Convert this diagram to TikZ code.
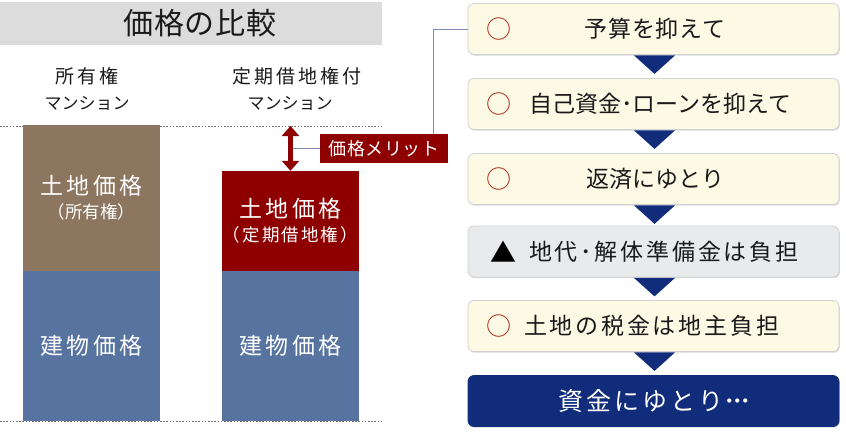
\documentclass[tikz,border=0pt]{standalone}
\usepackage{fontspec}
\setmainfont{Noto Sans CJK JP}
\newfontfamily\jpa[LetterSpace=3]{Noto Sans CJK JP}
\newfontfamily\jpb[LetterSpace=12]{Noto Sans CJK JP}
\newfontfamily\jpc[LetterSpace=15]{Noto Sans CJK JP}
\newcommand\barsubsize{\fontsize{17.5}{20}\selectfont}
\newcommand\middots{{\normalfont ･\kern-4.5pt･\kern-4.5pt･}}
\usetikzlibrary{arrows.meta,calc,shadows}
\definecolor{titlegray}{HTML}{DCDCDC}
\definecolor{landbrown}{HTML}{8C7660}
\definecolor{bldgblue}{HTML}{5773A0}
\definecolor{darkred}{HTML}{8E0000}
\definecolor{navy}{HTML}{102C7A}
\definecolor{cream}{HTML}{FCF9E4}
\definecolor{lgray}{HTML}{E8EAEC}
\definecolor{connblue}{HTML}{7C8BB0}
\definecolor{circred}{HTML}{B02A1A}
\definecolor{ink}{HTML}{1A1A1A}
\tikzset{
  bar/.style={rectangle, inner sep=0pt, minimum width=137pt, text=white, align=center, font=\fontsize{23}{27}\selectfont\jpc},
  colhead/.style={inner sep=0pt, text=ink, font=\fontsize{19}{22}\selectfont\jpc},
  colsub/.style={inner sep=0pt, text=ink, font=\fontsize{17}{20}\selectfont},
  flowbox/.style={rectangle, rounded corners=6pt, minimum width=371pt, minimum height=51pt, inner sep=0pt,
     draw=black!18, line width=0.8pt, drop shadow={shadow xshift=0.8pt, shadow yshift=-1.2pt, fill=black!25, opacity=0.6}},
  flowtext/.style={inner sep=0pt, text=ink, font=\fontsize{23}{26}\selectfont},
  okmark/.style={inner sep=0pt, text=circred, font=\fontsize{25}{26}\selectfont},
  conn/.style={draw=connblue, line width=0.8pt},
  guide/.style={draw=black!55, dash pattern=on 1.6pt off 1.6pt, line width=0.6pt},
  arrowdown/.style={fill=navy}
}
\begin{document}
\begin{tikzpicture}[x=1pt,y=-1pt]
\useasboundingbox (0,0) rectangle (846,432);
% title
\node[rectangle, fill=titlegray, minimum width=382pt, minimum height=43pt, inner sep=0pt] (titlebar) at (191,23.5) {};
\node[inner sep=0pt, text=ink, font=\fontsize{30}{32}\selectfont\jpa] (title) at (200,23.5) {価格の比較};
% column labels
\node[colhead] (l1a) at (87,76) {所有権};
\node[colsub] (l1b) at (87,103) {マンション};
\node[colhead] (l2a) at (297,76) {定期借地権付};
\node[colsub] (l2b) at (290,103) {マンション};
% guide lines
\coordinate (gt0) at (0,126); \coordinate (gt1) at (382,126);
\coordinate (gb0) at (0,421.5); \coordinate (gb1) at (382,421.5);
\path[guide] (gt0) -- (gt1);
\path[guide] (gb0) -- (gb1);
% bars
\node[bar, fill=landbrown, minimum height=146pt] (land1) at (91.5,198) {土地価格\\[-3pt]{\barsubsize\normalfont （所有権）}};
\node[bar, fill=bldgblue, minimum height=150pt] (bldg1) at (91.5,346) {建物価格};
\node[bar, fill=darkred, minimum height=100pt] (land2) at (290.5,221) {土地価格\\[-3pt]{\barsubsize\jpb （定期借地権）}};
\node[bar, fill=bldgblue, minimum height=150pt] (bldg2) at (290.5,346) {建物価格};
% merit arrow
\coordinate (atop) at (290.5,126);
\coordinate (amid) at (290.5,148.5);
\node[rectangle, fill=darkred, text=white, minimum width=128pt, minimum height=29pt, inner sep=0pt,
      font=\fontsize{18}{20}\selectfont\jpa] (merit) at (384,148.5) {価格メリット};
\draw[conn] (amid) -- (merit.west);
\draw[darkred, line width=4.5pt, {Triangle[length=10pt,width=17pt]}-{Triangle[length=10pt,width=17pt]}] (atop) -- (land2.north);
% flow boxes
\node[flowbox, fill=cream] (f1) at (653.5,29) {};
\node[flowbox, fill=cream] (f2) at (653.5,104) {};
\node[flowbox, fill=cream] (f3) at (653.5,179) {};
\node[flowbox, fill=lgray] (f4) at (653.5,251.5) {};
\node[flowbox, fill=cream] (f5) at (653.5,326) {};
\node[flowbox, fill=navy, draw=navy] (f6) at (653.5,401) {};
% connector from merit label to first box
\coordinate (mc) at (433,134);
\draw[conn] (mc) |- (f1.west);
% triangles
\foreach \a/\b in {f1/f2,f2/f3,f3/f4,f4/f5,f5/f6}{
  \fill[arrowdown] ($(\a.south)+(-19.5,0.5)$) -- ($(\a.south)+(21.5,0.5)$) -- ($(\a.south)+(1,19)$) -- cycle;
}
% box contents
\node[okmark] (c1) at (499,29) {○};
\node[flowtext, font=\fontsize{23}{26}\selectfont\jpa] (t1) at (655,29) {予算を抑えて};
\node[okmark] (c2) at (499,104) {○};
\node[flowtext, anchor=west] (t2) at (529,104) {自己資金･ローンを抑えて};
\node[okmark] (c3) at (499,179) {○};
\node[flowtext] (t3) at (655,179) {返済にゆとり};
\node[inner sep=0pt, text=black, font=\fontsize{26}{27}\selectfont] (c4) at (503,251.5) {▲};
\node[flowtext, anchor=west, font=\fontsize{23}{26}\selectfont\jpb] (t4) at (529,251.5) {地代･解体準備金は負担};
\node[okmark] (c5) at (499,326) {○};
\node[flowtext, anchor=west, font=\fontsize{23}{26}\selectfont\jpb] (t5) at (524,326) {土地の税金は地主負担};
\node[inner sep=0pt, text=white, font=\fontsize{25}{27}\selectfont\jpb] (t6) at (655,401) {資金にゆとり\middots};
\end{tikzpicture}
\end{document}
